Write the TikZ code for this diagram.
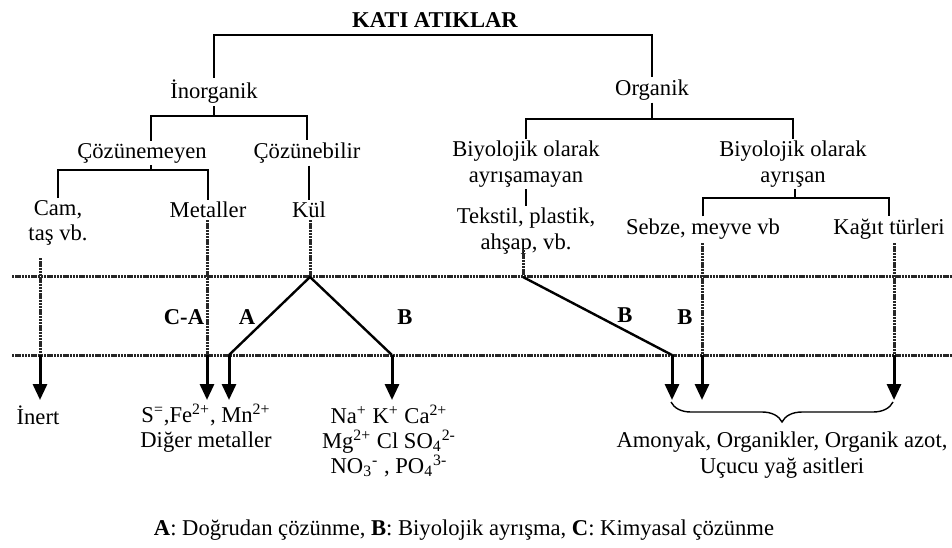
\documentclass[tikz,border=0pt]{standalone}
\usepackage{fontspec}
\setmainfont{Liberation Serif}
\usetikzlibrary{arrows.meta,decorations.pathreplacing}

\tikzset{
  lbl/.style={font=\fontsize{11.3}{12.6}\selectfont, inner sep=1pt, align=center},
  proc/.style={font=\fontsize{11.3}{12.6}\selectfont\bfseries, inner sep=1pt},
  tree/.style={line width=0.8pt},
  dotline/.style={line width=1.5pt, black!85, dash pattern=on 1.2pt off 0.4pt},
  split/.style={line width=1.2pt},
  outarrow/.style={line width=1.5pt, -{Triangle[width=7pt,length=8pt]}},
}

\begin{document}
\begin{tikzpicture}[x=0.5pt,y=-0.5pt]
\useasboundingbox (0,0) rectangle (952,547);

% Title and main groups
\node[proc] (root) at (435,20) {KATI ATIKLAR};
\node[lbl] (ino) at (214,92) {İnorganik};
\node[lbl] (org) at (652,90) {Organik};

% Inorganic branch
\node[lbl] (cozm) at (142,153) {Çözünemeyen};
\node[lbl] (cozb) at (307,153) {Çözünebilir};
\node[lbl] (cam) at (58,223) {Cam,\\taş vb.};
\node[lbl] (met) at (208,210) {Metaller};
\node[lbl] (kul) at (309,210) {Kül};

% Organic branch
\node[lbl] (bio1) at (526,164) {Biyolojik olarak\\ayrışamayan};
\node[lbl] (bio2) at (793,164) {Biyolojik olarak\\ayrışan};
\node[lbl] (tek) at (526,231) {Tekstil, plastik,\\ahşap, vb.};
\node[lbl] (seb) at (703,229) {Sebze, meyve vb};
\node[lbl] (kag) at (889,229) {Kağıt türleri};

% Products
\node[lbl] (inert) at (38,415) {İnert};
\node[lbl] (metout) at (206,428) {S\textsuperscript{=},Fe\textsuperscript{2+}, Mn\textsuperscript{2+}\\Diğer metaller};
\node[lbl] (ions) at (389,441) {Na\textsuperscript{+} K\textsuperscript{+} Ca\textsuperscript{2+}\\Mg\textsuperscript{2+} Cl SO\textsubscript{4}\textsuperscript{2-}\\NO\textsubscript{3}\textsuperscript{-} , PO\textsubscript{4}\textsuperscript{3-}};
\node[lbl] (orgout) at (782,455) {Amonyak, Organikler, Organik azot,\\Uçucu yağ asitleri};

% Process letters
\node[proc] (pca) at (184,317) {C-A};
\node[proc] (pa) at (247,317) {A};
\node[proc] (pb1) at (405,317) {B};
\node[proc] (pb2) at (625,315) {B};
\node[proc] (pb3) at (685,317) {B};

\node[lbl] (legend) at (464,530) {\textbf{A}: Doğrudan çözünme, \textbf{B}: Biyolojik ayrışma, \textbf{C}: Kimyasal çözünme};

% Tree connectors
\coordinate (bar0) at (435,35);
\draw[tree] (ino.north) -- (ino.north |- bar0) -- (org.north |- bar0) -- (org.north);

\coordinate (bar1) at (151,116);
\draw[tree] (ino.south) -- (ino.south |- bar1);
\draw[tree] (cozm.north -| bar1) -- (bar1) -- (bar1 -| cozb.north) -- (cozb.north);

\coordinate (bar2) at (151,170);
\draw[tree] (cozm.south -| bar2) -- (bar2);
\draw[tree] (cam.north) -- (cam.north |- bar2) -- (met.north |- bar2) -- (met.north);
\draw[tree] (cozb.south -| kul.north) -- (kul.north);

\coordinate (bar3) at (653,119);
\draw[tree] (org.south) -- (org.south |- bar3);
\draw[tree] (bio1.north) -- (bio1.north |- bar3) -- (bio2.north |- bar3) -- (bio2.north);
\draw[tree] (bio1.south) -- (tek.north);

\coordinate (bar4) at (795,198);
\draw[tree] (bio2.south -| bar4) -- (bar4);
\draw[tree] (seb.north) -- (seb.north |- bar4) -- (kag.north |- bar4) -- (kag.north);

% Reaction zone
\coordinate (l1w) at (12,276);
\coordinate (l1e) at (952,276);
\coordinate (l2w) at (12,355);
\coordinate (l2e) at (952,355);
\draw[dotline] (l1w) -- (l1e);
\draw[dotline] (l2w) -- (l2e);

% Drop points
\coordinate (camt) at (40,258);
\coordinate (mett) at (207,220);
\coordinate (kult) at (310,220);
\coordinate (tekt) at (523,250);
\coordinate (sebt) at (702,243);
\coordinate (kagt) at (894,243);
\coordinate (kula) at (310,277);
\coordinate (kulb) at (229,355);
\coordinate (kulc) at (392,355);
\coordinate (teka) at (523,277);
\coordinate (tekb) at (672,355);

\draw[dotline] (camt) -- (camt |- l2w);
\draw[dotline] (mett) -- (mett |- l2w);
\draw[dotline] (kult) -- (kula);
\draw[dotline] (tekt) -- (teka);
\draw[dotline] (sebt) -- (sebt |- l2w);
\draw[dotline] (kagt) -- (kagt |- l2w);

\draw[split] (kulb) -- (kula) -- (kulc);
\draw[split] (teka) -- (tekb);

% Outputs
\draw[outarrow] (camt |- l2w) -- (camt |- 0,400);
\draw[outarrow] (mett |- l2w) -- (mett |- 0,400);
\draw[outarrow] (kulb) -- (kulb |- 0,400);
\draw[outarrow] (kulc) -- (kulc |- 0,400);
\draw[outarrow] (tekb) -- (tekb |- 0,400);
\draw[outarrow] (sebt |- l2w) -- (sebt |- 0,400);
\draw[outarrow] (kagt |- l2w) -- (kagt |- 0,400);

\draw[line width=0.7pt, decorate, decoration={brace, amplitude=10pt}]
  (893,402) -- (671,402);
\end{tikzpicture}
\end{document}
